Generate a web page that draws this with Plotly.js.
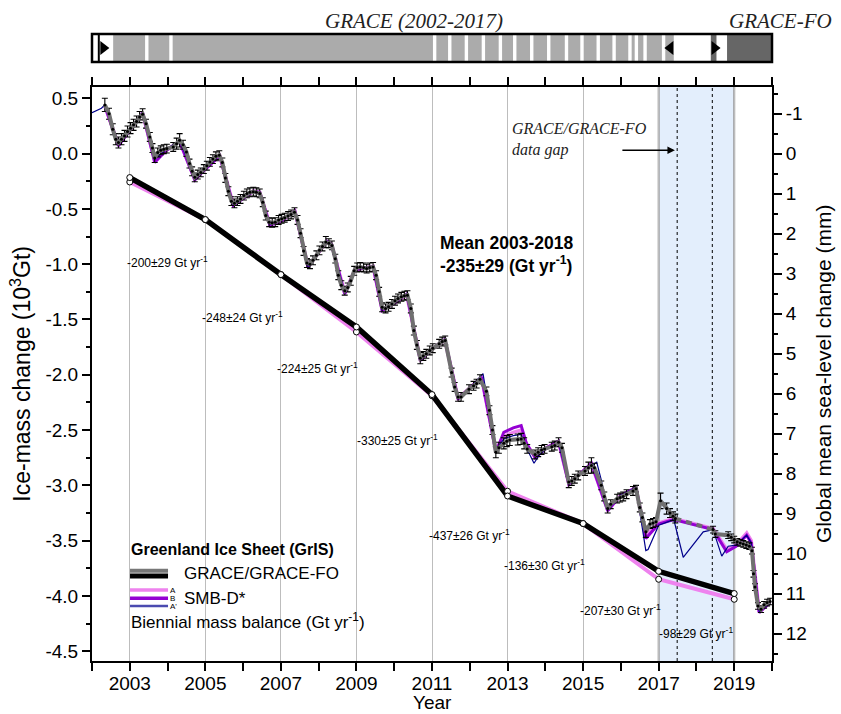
<!DOCTYPE html>
<html><head><meta charset="utf-8">
<script src="https://cdn.plot.ly/plotly-3.0.1.min.js"></script>
<style>html,body{margin:0;padding:0;background:#fff}#chart{width:841px;height:714px}</style>
</head><body><div id="chart"></div>
<script>
// ---------------- DATA ----------------
// GRACE monthly ice-mass change (10^3 Gt)
const graceT = [2002.34,2002.45,2002.55,2002.63,2002.70,2002.78,2002.86,2002.94,2003.02,2003.10,2003.18,2003.26,2003.34,2003.43,2003.53,2003.60,2003.66,2003.74,2003.82,2003.90,2003.98,2004.15,2004.24,2004.32,2004.41,2004.50,2004.58,2004.65,2004.72,2004.80,2004.88,2004.96,2005.04,2005.12,2005.20,2005.28,2005.37,2005.45,2005.53,2005.61,2005.69,2005.77,2005.85,2005.93,2006.02,2006.10,2006.18,2006.27,2006.35,2006.44,2006.52,2006.60,2006.69,2006.77,2006.85,2006.94,2007.02,2007.10,2007.19,2007.27,2007.36,2007.44,2007.52,2007.60,2007.69,2007.77,2007.85,2007.94,2008.02,2008.10,2008.19,2008.27,2008.35,2008.44,2008.52,2008.60,2008.69,2008.77,2008.85,2008.94,2009.02,2009.10,2009.19,2009.27,2009.35,2009.44,2009.52,2009.60,2009.68,2009.77,2009.85,2009.94,2010.02,2010.10,2010.19,2010.27,2010.35,2010.44,2010.52,2010.60,2010.69,2010.77,2010.85,2010.94,2011.02,2011.19,2011.27,2011.35,2011.52,2011.60,2011.69,2011.77,2011.98,2012.10,2012.18,2012.27,2012.44,2012.52,2012.60,2012.69,2012.77,2012.90,2012.98,2013.06,2013.27,2013.36,2013.44,2013.52,2013.73,2013.81,2013.90,2013.98,2014.17,2014.25,2014.35,2014.44,2014.62,2014.70,2014.78,2014.87,2015.05,2015.14,2015.22,2015.30,2015.48,2015.56,2015.65,2015.73,2015.90,2015.98,2016.06,2016.15,2016.32,2016.40,2016.50,2016.57,2016.66,2016.77,2016.85,2016.93,2017.05,2017.21,2017.30,2017.38,2017.44];
const graceM = [0.44,0.36,0.22,0.13,0.10,0.13,0.16,0.20,0.23,0.26,0.29,0.33,0.355,0.27,0.15,0.05,-0.04,0.01,0.03,0.04,0.045,0.06,0.09,0.12,0.08,0.015,-0.09,-0.16,-0.215,-0.19,-0.17,-0.14,-0.11,-0.075,-0.05,-0.025,-0.015,-0.08,-0.22,-0.34,-0.43,-0.45,-0.43,-0.41,-0.38,-0.36,-0.35,-0.345,-0.35,-0.36,-0.44,-0.56,-0.62,-0.625,-0.62,-0.60,-0.59,-0.58,-0.565,-0.55,-0.53,-0.60,-0.72,-0.88,-0.99,-1.00,-0.965,-0.92,-0.875,-0.84,-0.80,-0.81,-0.83,-0.95,-1.10,-1.19,-1.24,-1.21,-1.15,-1.06,-1.03,-1.025,-1.03,-1.04,-1.03,-1.025,-1.10,-1.25,-1.39,-1.40,-1.385,-1.36,-1.33,-1.31,-1.295,-1.285,-1.28,-1.40,-1.60,-1.73,-1.85,-1.83,-1.81,-1.78,-1.76,-1.72,-1.70,-1.69,-1.98,-2.11,-2.20,-2.20,-2.13,-2.10,-2.08,-2.04,-2.15,-2.32,-2.50,-2.70,-2.66,-2.62,-2.60,-2.59,-2.585,-2.58,-2.62,-2.67,-2.72,-2.70,-2.68,-2.67,-2.65,-2.64,-2.61,-2.66,-2.97,-2.96,-2.94,-2.91,-2.87,-2.84,-2.82,-2.84,-3.00,-3.10,-3.21,-3.17,-3.12,-3.11,-3.10,-3.08,-3.05,-3.03,-3.20,-3.29,-3.42,-3.35,-3.34,-3.33,-3.14,-3.21,-3.25,-3.28,-3.30];
const graceE = [0.06,0.05,0.05,0.05,0.05,0.05,0.05,0.05,0.05,0.05,0.05,0.05,0.05,0.04,0.04,0.04,0.04,0.04,0.04,0.04,0.04,0.04,0.05,0.06,0.04,0.04,0.04,0.04,0.04,0.04,0.04,0.04,0.04,0.04,0.04,0.04,0.04,0.04,0.04,0.04,0.04,0.04,0.04,0.04,0.04,0.04,0.04,0.04,0.04,0.04,0.04,0.04,0.04,0.04,0.04,0.04,0.04,0.04,0.04,0.04,0.04,0.04,0.04,0.04,0.04,0.04,0.04,0.04,0.04,0.04,0.05,0.04,0.04,0.04,0.04,0.04,0.04,0.04,0.04,0.04,0.04,0.04,0.04,0.04,0.04,0.04,0.04,0.04,0.04,0.04,0.04,0.04,0.04,0.04,0.04,0.04,0.04,0.04,0.04,0.04,0.05,0.04,0.04,0.04,0.04,0.04,0.04,0.04,0.04,0.04,0.04,0.04,0.04,0.04,0.04,0.04,0.04,0.04,0.04,0.05,0.05,0.05,0.05,0.05,0.05,0.05,0.05,0.04,0.04,0.04,0.04,0.04,0.04,0.04,0.04,0.04,0.05,0.04,0.04,0.04,0.04,0.05,0.07,0.04,0.04,0.04,0.04,0.04,0.04,0.04,0.04,0.04,0.04,0.03,0.04,0.04,0.05,0.04,0.04,0.04,0.07,0.05,0.04,0.04,0.04];
// GRACE-FO monthly
const foT = [2018.44,2018.50,2018.84,2018.92,2019.00,2019.08,2019.16,2019.24,2019.32,2019.40,2019.47,2019.51,2019.55,2019.63,2019.71,2019.79,2019.87,2019.95];
const foM = [-3.40,-3.44,-3.45,-3.47,-3.49,-3.51,-3.52,-3.53,-3.54,-3.55,-3.59,-3.80,-3.92,-4.09,-4.12,-4.08,-4.06,-4.05];
const foE = [0.03,0.03,0.03,0.03,0.03,0.03,0.03,0.03,0.03,0.03,0.03,0.03,0.03,0.03,0.03,0.03,0.03,0.03];

// SMB-D* reconstructions
const smbAT = [2002.34,2002.70,2003.00,2003.34,2003.66,2003.97,2004.32,2004.72,2005.00,2005.38,2005.74,2006.27,2006.44,2006.71,2007.06,2007.37,2007.72,2008.03,2008.21,2008.34,2008.69,2008.96,2009.44,2009.68,2009.97,2010.33,2010.69,2011.03,2011.34,2011.69,2012.00,2012.31,2012.69,2012.90,2013.15,2013.36,2013.50,2013.73,2014.03,2014.35,2014.62,2015.00,2015.22,2015.65,2016.00,2016.40,2016.66,2017.00,2017.40,2018.44,2018.80,2019.05,2019.33,2019.45,2019.66,2019.95];
const smbAM = [0.43,0.08,0.21,0.36,-0.06,0.03,0.11,-0.23,-0.14,-0.02,-0.46,-0.34,-0.35,-0.64,-0.60,-0.52,-1.02,-0.88,-0.80,-0.82,-1.26,-1.05,-1.02,-1.41,-1.36,-1.28,-1.86,-1.76,-1.69,-2.21,-2.12,-2.03,-2.68,-2.56,-2.52,-2.50,-2.63,-2.74,-2.66,-2.61,-2.98,-2.87,-2.81,-3.22,-3.09,-3.03,-3.45,-3.34,-3.30,-3.39,-3.58,-3.54,-3.43,-3.50,-4.14,-4.05];
const smbBT = [2002.34,2002.70,2003.00,2003.34,2003.66,2003.97,2004.32,2004.72,2005.00,2005.38,2005.74,2006.27,2006.44,2006.71,2007.06,2007.37,2007.72,2008.03,2008.21,2008.34,2008.69,2008.96,2009.44,2009.68,2009.97,2010.33,2010.69,2011.03,2011.34,2011.69,2012.00,2012.31,2012.69,2012.90,2013.15,2013.36,2013.50,2013.73,2014.03,2014.35,2014.62,2015.00,2015.22,2015.65,2016.00,2016.40,2016.66,2017.00,2017.40,2018.44,2018.80,2019.05,2019.33,2019.45,2019.66,2019.95];
const smbBM = [0.43,0.07,0.21,0.37,-0.08,0.03,0.11,-0.24,-0.14,-0.02,-0.47,-0.34,-0.35,-0.65,-0.60,-0.52,-1.03,-0.88,-0.79,-0.82,-1.27,-1.05,-1.02,-1.42,-1.36,-1.27,-1.87,-1.76,-1.68,-2.22,-2.12,-2.02,-2.70,-2.52,-2.48,-2.46,-2.62,-2.75,-2.66,-2.60,-2.99,-2.87,-2.80,-3.23,-3.09,-3.02,-3.48,-3.35,-3.31,-3.40,-3.60,-3.55,-3.45,-3.52,-4.15,-4.06];
const smbCT = [2002.00,2002.25,2002.34,2002.70,2003.00,2003.34,2003.66,2003.97,2004.32,2004.72,2005.00,2005.38,2005.74,2006.27,2006.44,2006.71,2007.06,2007.37,2007.72,2008.03,2008.21,2008.34,2008.69,2008.96,2009.44,2009.68,2009.97,2010.33,2010.69,2011.03,2011.34,2011.69,2012.00,2012.35,2012.69,2012.90,2013.15,2013.36,2013.50,2013.70,2013.85,2014.03,2014.35,2014.62,2015.00,2015.36,2015.48,2015.65,2016.00,2016.40,2016.66,2016.72,2017.00,2017.40,2017.65,2018.18,2018.44,2018.67,2018.84,2019.05,2019.33,2019.45,2019.66,2019.95];
const smbCM = [0.37,0.41,0.44,0.09,0.22,0.37,-0.05,0.04,0.12,-0.22,-0.14,-0.01,-0.46,-0.34,-0.35,-0.64,-0.59,-0.52,-1.02,-0.87,-0.79,-0.82,-1.26,-1.04,-1.02,-1.41,-1.35,-1.27,-1.86,-1.76,-1.68,-2.21,-2.12,-1.99,-2.69,-2.58,-2.55,-2.54,-2.66,-2.80,-2.72,-2.67,-2.61,-2.98,-2.87,-2.79,-2.95,-3.22,-3.09,-3.02,-3.59,-3.58,-3.36,-3.31,-3.65,-3.42,-3.40,-3.64,-3.55,-3.54,-3.45,-3.52,-4.14,-4.06];

// Biennial mass balance
const bienYears = [2003,2005,2007,2009,2011,2013,2015,2017,2019];
const graceBien = [-0.217,-0.597,-1.094,-1.568,-2.179,-3.096,-3.345,-3.777,-3.978];
const smbBien   = [-0.257,-0.597,-1.094,-1.613,-2.190,-3.053,-3.345,-3.849,-4.030];
const rates = [-200,-248,-224,-330,-437,-136,-207,-98];
const rateUnc = [29,24,25,25,26,30,30,29];
const meanRate = -235, meanUnc = 29;

// Mission timeline strip
const graceGapMonths = [2003.45,2004.09,2011.07,2011.47,2011.91,2012.36,2012.81,2013.19,2013.64,2014.09,2014.56,2014.97,2015.40,2015.82,2016.24,2016.41,2016.64,2017.13];
const graceSpan = [2002.56, 2017.40];
const foSpans = [[2018.38, 2018.53],[2018.81, 2020.0]];
const missionMarks = [2002.3, 2017.31, 2018.48];
const launchYear = 2002.18;

const gapPeriod = [2017, 2019];
const gapLines = [2017.49, 2018.42];
const oddYears = [2003,2005,2007,2009,2011,2013,2015,2017,2019];
const leftTicks = [0.5,0,-0.5,-1,-1.5,-2,-2.5,-3,-3.5,-4,-4.5];
const rightTicks = [-1,0,1,2,3,4,5,6,7,8,9,10,11,12];
const GT_PER_MM = 0.3617; // 10^3 Gt per mm sea level

// ---------------- STYLE ----------------
const SANS = 'Liberation Sans, Arial, Helvetica, sans-serif';
const SERIF = 'Liberation Serif, Times New Roman, serif';
const yRange = [-4.588, 0.605];
const mainDom = [0, 0.916];
const stripDom = [0.9553, 1];

const traces = [];
traces.push({x:bienYears, y:smbBien, mode:'lines', line:{color:'#ee82ee', width:4}, hoverinfo:'skip'});
traces.push({x:bienYears, y:graceBien, mode:'lines', line:{color:'#000', width:5.5}, hoverinfo:'skip'});
traces.push({x:bienYears, y:smbBien, mode:'markers', marker:{color:'#fff', size:6, line:{color:'#000', width:1}}, hoverinfo:'skip'});
traces.push({x:bienYears, y:graceBien, mode:'markers', marker:{color:'#fff', size:6, line:{color:'#000', width:1}}, hoverinfo:'skip'});
traces.push({x:smbAT, y:smbAM, mode:'lines', line:{color:'#ee82ee', width:3.5}, hoverinfo:'skip'});
traces.push({x:smbBT, y:smbBM, mode:'lines', line:{color:'#9400d3', width:3}, hoverinfo:'skip'});
traces.push({x:smbCT, y:smbCM, mode:'lines', line:{color:'#00008b', width:1.2}, hoverinfo:'skip'});
traces.push({x:[graceT[graceT.length-1], foT[0]], y:[graceM[graceM.length-1], foM[0]], mode:'lines', line:{color:'#707070', width:4, dash:'6px,5px'}, hoverinfo:'skip'});
[[graceT,graceM,graceE],[foT,foM,foE]].forEach(([t,m,e])=>{
  traces.push({x:t, y:m, mode:'lines+markers', line:{color:'#707070', width:4},
    marker:{color:'#000', size:3},
    error_y:{type:'data', array:e, visible:true, color:'#000', thickness:1.1, width:3},
    hoverinfo:'skip'});
});
traces.push({x:[2002], y:[0], yaxis:'y2', mode:'markers', marker:{opacity:0}, hoverinfo:'skip'});
traces.push({x:missionMarks, y:[0.5,0.5,0.5], xaxis:'x3', yaxis:'y3', mode:'markers', cliponaxis:false,
  marker:{symbol:['triangle-right','triangle-left','triangle-right'], color:'#000', size:12}, hoverinfo:'skip'});

const shapes = [];
shapes.push({type:'rect', xref:'x', yref:'y domain', x0:gapPeriod[0], x1:gapPeriod[1], y0:0, y1:1, fillcolor:'#e3eefc', line:{width:0}, layer:'below'});
gapPeriod.forEach(g=>shapes.push({type:'line', xref:'x', yref:'y domain', x0:g, x1:g, y0:0, y1:1, line:{color:'#9a9a9a', width:2}, layer:'below'}));
gapLines.forEach(g=>shapes.push({type:'line', xref:'x', yref:'y domain', x0:g, x1:g, y0:0, y1:1, line:{color:'#000', width:1, dash:'dot'}, layer:'below'}));
shapes.push({type:'rect', xref:'x3', yref:'y3', x0:graceSpan[0], x1:graceSpan[1], y0:0, y1:1, fillcolor:'#ababab', line:{width:0}, layer:'below'});
graceGapMonths.forEach(g=>shapes.push({type:'rect', xref:'x3', yref:'y3', x0:g-0.045, x1:g+0.045, y0:0, y1:1, fillcolor:'#fff', line:{width:0}, layer:'below'}));
foSpans.forEach(s=>shapes.push({type:'rect', xref:'x3', yref:'y3', x0:s[0], x1:s[1], y0:0, y1:1, fillcolor:'#666', line:{width:0}, layer:'below'}));
shapes.push({type:'line', xref:'x3', yref:'y3', x0:launchYear, x1:launchYear, y0:0, y1:1, line:{color:'#000', width:2}, layer:'below'});
shapes.push({type:'rect', xref:'paper', yref:'paper', x0:0, x1:1, y0:stripDom[0], y1:stripDom[1], line:{color:'#000', width:2.5}, fillcolor:'rgba(0,0,0,0)'});
const lgX0 = 0.0559, lgX1 = 0.1118;
[[0.1440,'#777',4],[0.1356,'#000',5],[0.1132,'#ee82ee',3.5],[0.1000,'#9400d3',3.5],[0.0877,'#4b4bb0',2.5]].forEach(([y,c,w])=>
  shapes.push({type:'line', xref:'paper', yref:'paper', x0:lgX0, x1:lgX1, y0:y, y1:y, line:{color:c, width:w}}));

const annotations = [];
const labelPos = [[2002.868,-0.982],[2004.855,-1.479],[2006.84,-1.941],[2008.958,-2.592],[2010.864,-3.452],[2012.85,-3.723],[2014.86,-4.129],[2016.95,-4.337]];
rates.forEach((r,i)=>annotations.push({x:labelPos[i][0], y:labelPos[i][1], xref:'x', yref:'y', xanchor:'left', yanchor:'middle', showarrow:false,
  text: r + '±' + rateUnc[i] + ' Gt yr<sup>-1</sup>', font:{size:12, family:SANS}}));
annotations.push({x:2011.16, y:-0.912, xref:'x', yref:'y', xanchor:'left', yanchor:'middle', showarrow:false, align:'left',
  text:'<b>Mean 2003-2018<br>' + meanRate + '±' + meanUnc + ' (Gt yr<sup>-1</sup>)</b>', font:{size:17.5, family:SANS}});
annotations.push({x:2013.07, y:0.128, xref:'x', yref:'y', xanchor:'left', yanchor:'middle', showarrow:false, align:'left',
  text:'<i>GRACE/GRACE-FO<br>data gap</i>', font:{size:16, family:SERIF, color:'#222'}});
annotations.push({x:gapLines[0]-0.06, y:0.03, ax:2016.0, ay:0.03, xref:'x', yref:'y', axref:'x', ayref:'y', text:'', showarrow:true, arrowhead:2, arrowsize:1, arrowwidth:1.5, arrowcolor:'#000'});
annotations.push({x:0.473, y:0.998, xref:'paper', yref:'paper', xanchor:'center', yanchor:'bottom', showarrow:false,
  text:'<i>GRACE (2002-2017)</i>', font:{size:21, family:SERIF, color:'#222'}});
annotations.push({x:1.091, y:0.998, xref:'paper', yref:'paper', xanchor:'right', yanchor:'bottom', showarrow:false,
  text:'<i>GRACE-FO</i>', font:{size:21, family:SERIF, color:'#222'}});
annotations.push({x:0.054, y:0.1786, xref:'paper', yref:'paper', xanchor:'left', yanchor:'middle', showarrow:false, text:'<b>Greenland Ice Sheet (GrIS)</b>', font:{size:16}});
annotations.push({x:0.132, y:0.1400, xref:'paper', yref:'paper', xanchor:'left', yanchor:'middle', showarrow:false, text:'GRACE/GRACE-FO', font:{size:17}});
annotations.push({x:0.132, y:0.1000, xref:'paper', yref:'paper', xanchor:'left', yanchor:'middle', showarrow:false, text:'SMB-D*', font:{size:17}});
[['A',0.1132],['B',0.1000],['A\'',0.0877]].forEach(([t,y])=>annotations.push({x:0.1135, y:y, xref:'paper', yref:'paper', xanchor:'left', yanchor:'middle', showarrow:false, text:t, font:{size:8}, borderpad:0}));
annotations.push({x:0.054, y:0.0638, xref:'paper', yref:'paper', xanchor:'left', yanchor:'middle', showarrow:false, text:'Biennial mass balance (Gt yr<sup>-1</sup>)', font:{size:17}});
// x-axis title placed below the tick labels
annotations.push({x:0.5, y:-0.0662, xref:'paper', yref:'paper', xanchor:'center', yanchor:'middle', showarrow:false, text:'Year', font:{size:19}, borderpad:0});

const axLine = {showline:true, linewidth:2, linecolor:'#000', ticks:'outside', ticklen:8, tickwidth:2, tickcolor:'#000', zeroline:false};
const layout = {
  width:841, height:714, margin:{l:92, r:69, t:34, b:53, pad:0},
  paper_bgcolor:'#fff', plot_bgcolor:'rgba(0,0,0,0)', showlegend:false,
  font:{family:SANS, size:19, color:'#000'},
  xaxis:Object.assign({}, axLine, {domain:[0,1], anchor:'y', range:[2002,2020], tickvals:oddYears, ticktext:oddYears.map(String),
    mirror:'allticks', showgrid:true, gridcolor:'#bdbdbd', gridwidth:1, ticklabelstandoff:-4,
    minor:{dtick:1, tick0:2002, ticks:'outside', ticklen:8, tickwidth:2, tickcolor:'#000', showgrid:false},
    tickfont:{size:19}}),
  yaxis:Object.assign({}, axLine, {domain:mainDom, anchor:'x', range:yRange, tickvals:leftTicks, ticktext:leftTicks.map(v=>v.toFixed(1)),
    showgrid:false, minor:{dtick:0.25, tick0:0, ticks:'outside', ticklen:4, tickwidth:2, tickcolor:'#000'},
    tickfont:{size:19}, title:{text:'Ice-mass change (10<sup>3</sup>Gt)', font:{size:23}, standoff:8}}),
  yaxis2:Object.assign({}, axLine, {overlaying:'y', side:'right', anchor:'x', domain:mainDom,
    range:[-yRange[0]/GT_PER_MM, -yRange[1]/GT_PER_MM], tickvals:rightTicks, ticktext:rightTicks.map(String), showgrid:false,
    minor:{dtick:0.5, tick0:0, ticks:'outside', ticklen:4, tickwidth:2, tickcolor:'#000'},
    tickfont:{size:19}, title:{text:'Global mean sea-level change (mm)', font:{size:21}, standoff:10}}),
  xaxis3:{domain:[0,1], anchor:'y3', range:[2002,2020], visible:false, fixedrange:true},
  yaxis3:{domain:stripDom, anchor:'x3', range:[0,1], visible:false, fixedrange:true},
  shapes:shapes, annotations:annotations
};
Plotly.newPlot('chart', traces, layout, {staticPlot:true, displayModeBar:false});
</script></body></html>
